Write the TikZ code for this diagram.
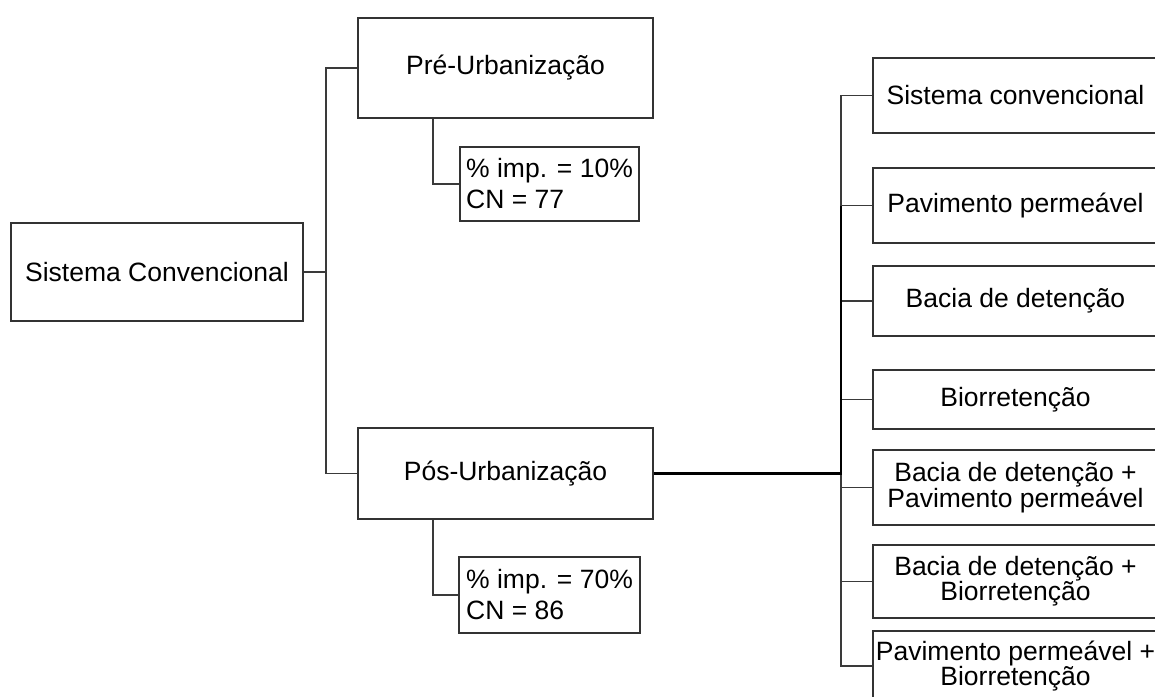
\documentclass[tikz,border=0pt]{standalone}
\usepackage{fontspec}
\setmainfont{Liberation Sans}
\usetikzlibrary{calc}
\definecolor{boxline}{HTML}{333333}
\definecolor{conline}{HTML}{3A3A3A}
\tikzset{
  box/.style={draw=boxline, line width=1.6pt, rectangle, inner sep=2pt, align=center,
    font=\fontsize{26.5}{31}\selectfont},
  rbox/.style={box, minimum width=285pt, font=\fontsize{26.5}{25}\selectfont},
  ibox/.style={box, align=left, font=\fontsize{26.5}{31}\selectfont},
  con/.style={draw=conline, line width=1.3pt},
  thickcon/.style={draw=black, line width=2.8pt},
}
\begin{document}
\begin{tikzpicture}[x=1pt,y=1pt]
\useasboundingbox (0,0) rectangle (1155,-696);
\clip (0,0) rectangle (1155,-696);
% left side
\node[box, minimum width=292pt, minimum height=98pt] (sc) at (157,-272) {Sistema Convencional};
\node[box, minimum width=295pt, minimum height=100pt] (pre) at (505.5,-68) {Pré-Urbanização};
\node[box, minimum width=295pt, minimum height=91pt] (pos) at (505.5,-473.5) {Pós-Urbanização};
\node[ibox, minimum width=179pt, minimum height=74pt] (i10) at (549.5,-184) {\% imp. = 10\%\\CN = 77};
\node[ibox, minimum width=181pt, minimum height=76pt] (i70) at (549.5,-595) {\% imp. = 70\%\\CN = 86};
% right side
\node[rbox, minimum height=75pt] (r1) at (1015.5,-95.5) {Sistema convencional};
\node[rbox, minimum height=75pt] (r2) at (1015.5,-205.5) {Pavimento permeável};
\node[rbox, minimum height=70pt] (r3) at (1015.5,-301) {Bacia de detenção};
\node[rbox, minimum height=59pt] (r4) at (1015.5,-399.5) {Biorretenção};
\node[rbox, minimum height=75pt] (r5) at (1015.5,-487.5) {Bacia de detenção +\\Pavimento permeável};
\node[rbox, minimum height=73pt] (r6) at (1015.5,-581.5) {Bacia de detenção +\\Biorretenção};
\node[rbox, minimum height=70pt] (r7) at (1015.5,-666) {Pavimento permeável +\\Biorretenção};
% connectors left
\coordinate (j1) at (326,-272);
\draw[con] (sc.east) -- (j1);
\draw[con] (j1) |- (pre.west);
\draw[con] (j1) |- (pos.west);
\draw[con] ([xshift=-72.5pt]pre.south) |- (i10.west);
\draw[con] ([xshift=-72.5pt]pos.south) |- (i70.west);
% connectors right
\coordinate (sp) at (841,-473.5);
\draw[con] (sp) |- (r1.west);
\draw[con] (sp) |- (r2.west);
\draw[con] (sp) |- (r3.west);
\draw[con] (sp) |- (r4.west);
\draw[con] (sp) |- (r5.west);
\draw[con] (sp) |- (r6.west);
\draw[con] (sp) |- (r7.west);
\draw[thickcon] (pos.east) -- (sp) -- (sp |- r2.west);
\end{tikzpicture}
\end{document}
